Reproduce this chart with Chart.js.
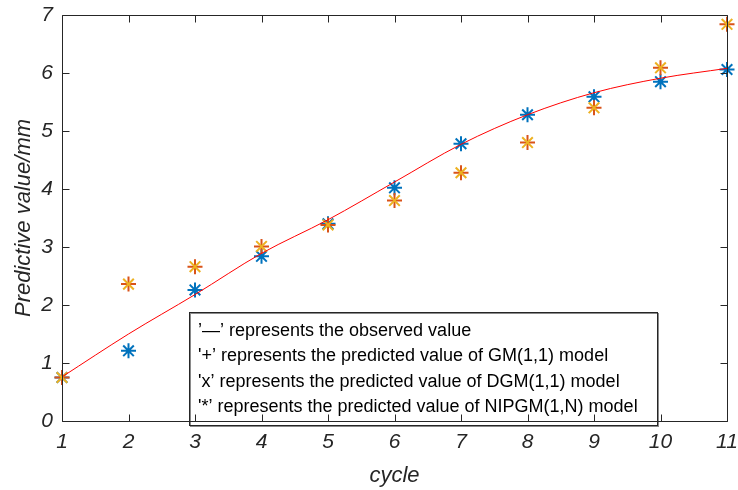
<!DOCTYPE html>
<html>
<head>
<meta charset="utf-8">
<script src="https://cdn.jsdelivr.net/npm/chart.js@4"></script>
<style>
  html, body { margin: 0; padding: 0; background: #fff; }
  #wrap { width: 738px; height: 490px; }
</style>
</head>
<body>
<div id="wrap"><canvas id="c"></canvas></div>
<script>
// ── Data ──
const cycles   = [1, 2, 3, 4, 5, 6, 7, 8, 9, 10, 11];
const observed = [0.76, 1.50, 2.18, 2.89, 3.47, 4.12, 4.77, 5.28, 5.66, 5.91, 6.08];
const gm11     = [0.75, 2.36, 2.66, 3.01, 3.38, 3.80, 4.28, 4.80, 5.40, 6.09, 6.84];
const dgm11    = [0.75, 2.36, 2.66, 3.01, 3.38, 3.80, 4.28, 4.80, 5.40, 6.09, 6.84];
const nipgm    = [0.75, 1.21, 2.26, 2.84, 3.40, 4.02, 4.78, 5.28, 5.59, 5.85, 6.06];
const yTicks   = [0, 1, 2, 3, 4, 5, 6, 7];
const notes = [
    '\u2019\u2014\u2019 represents the observed value',
    '\'+\u2019 represents the predicted value of GM(1,1) model',
    '\'x\u2019 represents the predicted value of DGM(1,1) model',
    '\'*\u2019 represents the predicted value of NIPGM(1,N) model'
];

const FONT = '"Liberation Sans", Arial, Helvetica, sans-serif';
const AX = '#262626';
const pts = arr => cycles.map((x, i) => ({ x, y: arr[i] }));

// no extra label padding, so the plot box lands where the layout says
const noPad = s => { s.paddingTop = 0; s.paddingBottom = 0; s.paddingLeft = 0; s.paddingRight = 0; };

// ── Box frame, inward ticks and the text box ──
const framePlugin = {
    id: 'frame',
    afterDatasetsDraw(chart) {
        const { ctx, chartArea: a, scales: { x, y } } = chart;
        ctx.save();

        // note box
        const bx = 189.5, by = 312.5, bw = 468, bh = 113;
        ctx.fillStyle = '#fff';
        ctx.fillRect(bx, by, bw, bh);
        ctx.strokeStyle = '#8a8a8a';
        ctx.lineWidth = 1;
        ctx.strokeRect(bx + 1, by + 1, bw, bh);
        ctx.strokeStyle = AX;
        ctx.strokeRect(bx, by, bw, bh);
        ctx.fillStyle = '#000';
        ctx.font = '18px ' + FONT;
        ctx.textBaseline = 'middle';
        notes.forEach((t, i) => ctx.fillText(t, 198, 331 + i * 25.3));

        // axes box
        ctx.strokeStyle = AX;
        ctx.lineWidth = 1;
        const L = Math.round(a.left) + 0.5, R = Math.round(a.right) + 0.5;
        const T = Math.round(a.top) + 0.5, B = Math.round(a.bottom) + 0.5;
        ctx.beginPath();
        ctx.moveTo(L, T); ctx.lineTo(R, T); ctx.lineTo(R, B); ctx.lineTo(L, B); ctx.closePath();
        ctx.stroke();

        const tl = 7;
        ctx.beginPath();
        cycles.forEach(v => {
            const px = Math.round(x.getPixelForValue(v)) + 0.5;
            ctx.moveTo(px, B); ctx.lineTo(px, B - tl);
            ctx.moveTo(px, T); ctx.lineTo(px, T + tl);
        });
        yTicks.forEach(v => {
            const py = Math.round(y.getPixelForValue(v)) + 0.5;
            ctx.moveTo(L, py); ctx.lineTo(L + tl, py);
            ctx.moveTo(R, py); ctx.lineTo(R - tl, py);
        });
        ctx.stroke();
        ctx.restore();
    }
};

new Chart(document.getElementById('c'), {
    type: 'line',
    data: {
        datasets: [
            {
                label: 'NIPGM(1,N)', data: pts(nipgm), showLine: false,
                pointStyle: 'star', pointRadius: 7.5, borderColor: '#0072BD', pointBorderWidth: 2,
                backgroundColor: '#0072BD', clip: false, order: 3
            },
            {
                label: 'GM(1,1)', data: pts(gm11), showLine: false,
                pointStyle: 'cross', pointRadius: 7.5, borderColor: '#D95319', pointBorderWidth: 2,
                backgroundColor: '#D95319', clip: false, order: 2
            },
            {
                label: 'DGM(1,1)', data: pts(dgm11), showLine: false,
                pointStyle: 'crossRot', pointRadius: 7.5, borderColor: '#EDB120', pointBorderWidth: 2,
                backgroundColor: '#EDB120', clip: false, order: 1
            },
            {
                label: 'Observed', data: pts(observed),
                borderColor: '#FF0000', borderWidth: 1, pointRadius: 0,
                cubicInterpolationMode: 'monotone', fill: false, clip: false, order: 0
            }
        ]
    },
    options: {
        responsive: true, maintainAspectRatio: false, animation: false,
        layout: { padding: { top: 15, right: 11, left: 0, bottom: 0 }, autoPadding: false },
        plugins: { legend: { display: false }, tooltip: { enabled: false } },
        scales: {
            x: {
                type: 'linear', min: 1, max: 11,
                grid: { display: false, drawTicks: false }, border: { display: false },
                afterFit: s => { s.height = 69; noPad(s); },
                ticks: {
                    stepSize: 1, padding: 9, color: AX,
                    font: { family: FONT, size: 21, style: 'italic' }
                },
                title: {
                    display: true, text: 'cycle', color: AX,
                    font: { family: FONT, size: 22, style: 'italic' }, padding: { top: 0, bottom: 1 }
                }
            },
            y: {
                min: 0, max: 7,
                grid: { display: false, drawTicks: false }, border: { display: false },
                afterFit: s => { s.width = 62; noPad(s); },
                ticks: {
                    stepSize: 1, padding: 9, color: AX,
                    font: { family: FONT, size: 21, style: 'italic' }
                },
                title: {
                    display: true, text: 'Predictive value/mm', color: AX,
                    font: { family: FONT, size: 22, style: 'italic' }, padding: { top: 11, bottom: 0 }
                }
            }
        }
    },
    plugins: [framePlugin]
});
</script>
</body>
</html>
